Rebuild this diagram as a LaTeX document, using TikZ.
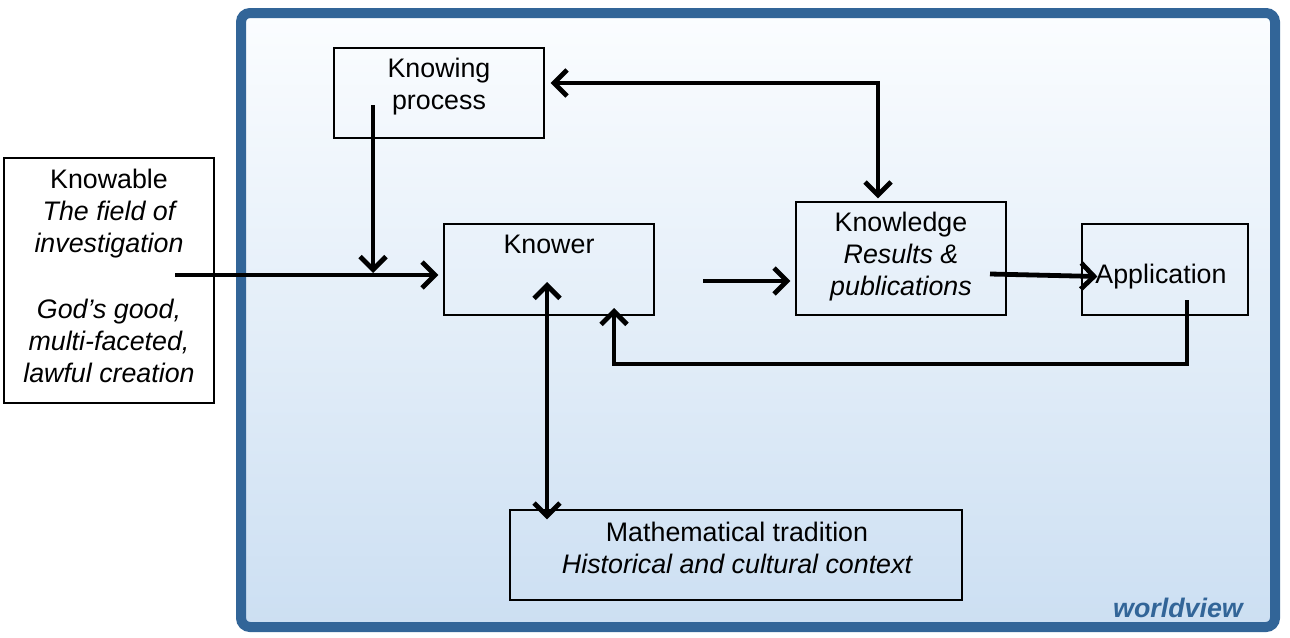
\documentclass[tikz,border=0pt]{standalone}
\usepackage{fontspec}
\setmainfont{Liberation Sans}
\usetikzlibrary{arrows.meta,calc}
\definecolor{frameblue}{RGB}{50,101,152}
\definecolor{bgtop}{RGB}{251,253,255}
\definecolor{bgbot}{RGB}{204,223,242}
\begin{document}
\begin{tikzpicture}[x=1pt,y=-1pt,
  box/.style={draw=black,line width=1.2pt,inner sep=0pt},
  txt/.style={align=center,font=\fontsize{26.8}{32}\selectfont,inner sep=0pt,text=black},
  arr/.style={line width=4.8pt,-{Straight Barb[length=13pt,width=26pt]}},
  arrboth/.style={line width=4.8pt,{Straight Barb[length=13pt,width=26pt]}-{Straight Barb[length=13pt,width=26pt]}}]
\useasboundingbox (0,0) rectangle (1290,637);
% frame
\path[draw=frameblue,line width=10pt,rounded corners=9pt,top color=bgtop,bottom color=bgbot]
  (241,13) rectangle (1275,627);
\node[font=\bfseries\itshape\fontsize{26.8}{30}\selectfont,text=frameblue,inner sep=0pt] (wv) at (1178,608) {worldview};
% boxes
\node[box,fill=white,minimum width=210pt,minimum height=245pt] (kb) at (109,280.5) {};
\node[txt] (kbt) at (109,276) {Knowable\\\itshape The field of\\\itshape investigation\\[34pt]\itshape God’s good,\\\itshape multi-faceted,\\\itshape lawful creation};
\node[box,minimum width=210pt,minimum height=90pt] (kp) at (439,93) {};
\node[txt] (kpt) at (439,87) {Knowing\\process};
\node[box,minimum width=210pt,minimum height=91pt] (kw) at (549,269.5) {};
\node[txt] (kwt) at (549,244) {Knower};
\node[box,minimum width=210pt,minimum height=113pt] (kl) at (901,258.5) {};
\node[txt] (klt) at (901,257) {Knowledge\\\itshape Results \&\\\itshape publications};
\node[box,minimum width=166pt,minimum height=91pt] (ap) at (1165,269.5) {};
\node[txt] (apt) at (1161,277) {Application};
\node[box,minimum width=452pt,minimum height=90pt] (mt) at (736,555) {};
\node[txt] (mtt) at (737,548) {Mathematical tradition\\\itshape Historical and cultural context};
% connector end points
\coordinate (kbS) at (175,275);
\coordinate (kpS) at (373,105);
\coordinate (kwR) at (703,281);
\coordinate (klR) at (990,274);
\coordinate (apS) at (1187,300);
\coordinate (kwB) at (614,308);
\coordinate (kwM) at (547,282);
% connectors
\draw[arr] (kbS) -- ($(kw.west |- kbS)+(-5,0)$);
\draw[arr] (kpS) -- ($(kpS |- kbS)+(0,-2)$);
\draw[arrboth] ($(kp.east)+(6,-10)$) -| ($(kl.north)+(-23,-3)$);
\draw[arr] (kwR) -- ($(kl.west |- kwR)+(-5,0)$);
\draw[arr] (klR) -- ($(ap.west)+(16,7)$);
\draw[arr] (apS) -- (apS |- 0,364) -| (kwB);
\draw[arrboth] (kwM) -- ($(mt.north -| kwM)+(0,10)$);
\end{tikzpicture}
\end{document}
